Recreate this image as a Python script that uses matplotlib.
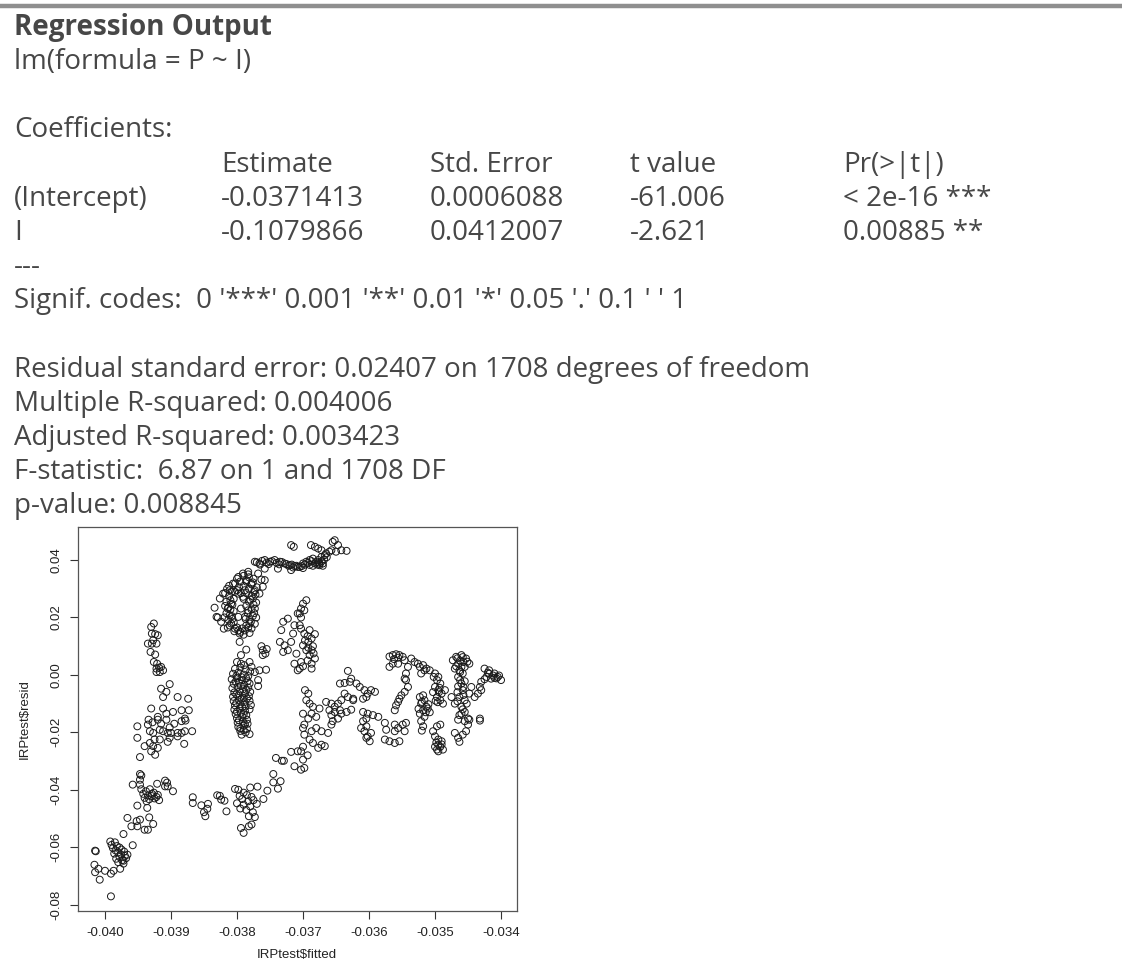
import matplotlib
matplotlib.use("Agg")
import matplotlib.pyplot as plt

W, H = 1122, 964

# regression summary text
title = "Regression Output"
call_line = "lm(formula = P ~ I)"
coef_title = "Coefficients:"
coef_cols = ["", "Estimate", "Std. Error", "t value", "Pr(>|t|)"]
coef_rows = [
    ["(Intercept)", "-0.0371413", "0.0006088", "-61.006", "< 2e-16 ***"],
    ["I", "-0.1079866", "0.0412007", "-2.621", "0.00885 **"],
]
signif_lines = ["---", "Signif. codes:  0 '***' 0.001 '**' 0.01 '*' 0.05 '.' 0.1 ' ' 1"]
fit_lines = [
    "Residual standard error: 0.02407 on 1708 degrees of freedom",
    "Multiple R-squared: 0.004006",
    "Adjusted R-squared: 0.003423",
    "F-statistic:  6.87 on 1 and 1708 DF",
    "p-value: 0.008845",
]

# residuals vs fitted, point groups (fitted, resid)
lower_left = [
    (-0.04015, -0.0612), (-0.04014, -0.0614), (-0.04016, -0.0661), (-0.04015, -0.0687),
    (-0.04008, -0.0713), (-0.04010, -0.0675), (-0.04000, -0.0682), (-0.03991, -0.0692),
    (-0.03991, -0.0771), (-0.03987, -0.0682), (-0.03977, -0.0675), (-0.03972, -0.0647),
    (-0.03966, -0.0626), (-0.03992, -0.0580), (-0.03985, -0.0583), (-0.03990, -0.0592),
    (-0.03982, -0.0596), (-0.03988, -0.0603), (-0.03978, -0.0601), (-0.03984, -0.0611),
    (-0.03975, -0.0608), (-0.03980, -0.0618), (-0.03971, -0.0615), (-0.03976, -0.0625),
    (-0.03986, -0.0622), (-0.03978, -0.0634), (-0.03970, -0.0630), (-0.03983, -0.0640),
    (-0.03974, -0.0645), (-0.03968, -0.0638), (-0.03980, -0.0652), (-0.03972, -0.0657),
    (-0.03958, -0.0593), (-0.03972, -0.0554), (-0.03966, -0.0498), (-0.03952, -0.0509),
    (-0.03960, -0.0527), (-0.03951, -0.0527), (-0.03947, -0.0504), (-0.03940, -0.0539),
    (-0.03935, -0.0539), (-0.03927, -0.0519), (-0.03933, -0.0496), (-0.03951, -0.0455),
    (-0.03936, -0.0463), (-0.03945, -0.0398), (-0.03938, -0.0405), (-0.03932, -0.0398),
    (-0.03926, -0.0410), (-0.03942, -0.0414), (-0.03935, -0.0420), (-0.03929, -0.0414),
    (-0.03922, -0.0425), (-0.03940, -0.0428), (-0.03933, -0.0433), (-0.03925, -0.0430),
    (-0.03918, -0.0436), (-0.03937, -0.0440), (-0.03929, -0.0422), (-0.03920, -0.0418),
    (-0.03958, -0.0382), (-0.03947, -0.0382), (-0.03947, -0.0345), (-0.03947, -0.0365),
    (-0.03945, -0.0350), (-0.03921, -0.0379), (-0.03909, -0.0368), (-0.03909, -0.0388),
    (-0.03905, -0.0388), (-0.03897, -0.0405), (-0.03906, -0.0375),
]

left_column = [
    (-0.03926, 0.0179), (-0.03930, 0.0167), (-0.03929, 0.0144), (-0.03924, 0.0142),
    (-0.03920, 0.0138), (-0.03935, 0.0109), (-0.03929, 0.0109), (-0.03922, 0.0109),
    (-0.03927, 0.0121), (-0.03931, 0.0080), (-0.03924, 0.0071), (-0.03926, 0.0045),
    (-0.03921, 0.0039), (-0.03915, 0.0028), (-0.03922, 0.0022), (-0.03912, 0.0016),
    (-0.03917, 0.0010), (-0.03922, 0.0010), (-0.03918, 0.0025), (-0.03902, -0.0032),
    (-0.03915, -0.0048), (-0.03907, -0.0059), (-0.03912, -0.0077), (-0.03890, -0.0077),
    (-0.03874, -0.0083), (-0.03884, -0.0123), (-0.03873, -0.0123), (-0.03897, -0.0129),
    (-0.03879, -0.0152), (-0.03930, -0.0117), (-0.03912, -0.0117), (-0.03907, -0.0135),
    (-0.03920, -0.0146), (-0.03951, -0.0179), (-0.03935, -0.0173), (-0.03932, -0.0196),
    (-0.03927, -0.0202), (-0.03917, -0.0191), (-0.03912, -0.0196), (-0.03905, -0.0202),
    (-0.03900, -0.0202), (-0.03890, -0.0202), (-0.03884, -0.0202), (-0.03879, -0.0196),
    (-0.03868, -0.0196), (-0.03934, -0.0156), (-0.03920, -0.0156), (-0.03907, -0.0156),
    (-0.03884, -0.0161), (-0.03878, -0.0159), (-0.03951, -0.0219), (-0.03940, -0.0248),
    (-0.03932, -0.0237), (-0.03925, -0.0225), (-0.03917, -0.0225), (-0.03905, -0.0233),
    (-0.03902, -0.0219), (-0.03890, -0.0214), (-0.03880, -0.0240), (-0.03930, -0.0266),
    (-0.03924, -0.0278), (-0.03947, -0.0286), (-0.03927, -0.0248), (-0.03920, -0.0254),
    (-0.03928, -0.0165), (-0.03915, -0.0170), (-0.03902, -0.0183), (-0.03895, -0.0170),
]

middle_band = [
    (-0.03867, -0.0426), (-0.03867, -0.0446), (-0.03854, -0.0454), (-0.03850, -0.0478),
    (-0.03848, -0.0492), (-0.03844, -0.0449), (-0.03845, -0.0466), (-0.03830, -0.0419),
    (-0.03826, -0.0421), (-0.03824, -0.0434), (-0.03819, -0.0438), (-0.03816, -0.0475),
    (-0.03803, -0.0397), (-0.03798, -0.0400), (-0.03790, -0.0410), (-0.03796, -0.0421),
    (-0.03785, -0.0418), (-0.03778, -0.0425), (-0.03792, -0.0432), (-0.03783, -0.0440),
    (-0.03775, -0.0436), (-0.03800, -0.0447), (-0.03790, -0.0452), (-0.03780, -0.0458),
    (-0.03770, -0.0449), (-0.03795, -0.0465), (-0.03786, -0.0470), (-0.03776, -0.0478),
    (-0.03782, -0.0492), (-0.03773, -0.0495), (-0.03769, -0.0389), (-0.03780, -0.0392),
    (-0.03794, -0.0533), (-0.03790, -0.0550), (-0.03782, -0.0527), (-0.03778, -0.0521),
    (-0.03760, -0.0432), (-0.03754, -0.0403), (-0.03745, -0.0374), (-0.03745, -0.0345),
    (-0.03738, -0.0396), (-0.03734, -0.0370), (-0.03741, -0.0289), (-0.03732, -0.0299),
    (-0.03729, -0.0299), (-0.03713, -0.0318), (-0.03718, -0.0268), (-0.03708, -0.0266),
]

rising_band = [
    (-0.03703, -0.0266), (-0.03700, -0.0295), (-0.03703, -0.0330), (-0.03698, -0.0324),
    (-0.03698, -0.0208), (-0.03700, -0.0185), (-0.03698, -0.0173), (-0.03690, -0.0225),
    (-0.03685, -0.0237), (-0.03677, -0.0254), (-0.03672, -0.0243), (-0.03667, -0.0248),
    (-0.03687, -0.0196), (-0.03680, -0.0185), (-0.03672, -0.0196), (-0.03662, -0.0202),
    (-0.03657, -0.0173), (-0.03655, -0.0161), (-0.03693, -0.0280), (-0.03700, -0.0250),
]

centre_column = [
    (-0.03796, 0.0115), (-0.03786, 0.0088), (-0.03794, 0.0069), (-0.03800, 0.0045),
    (-0.03794, 0.0039), (-0.03789, 0.0034), (-0.03781, 0.0045), (-0.03778, 0.0028),
    (-0.03773, 0.0010), (-0.03766, 0.0016), (-0.03756, 0.0018), (-0.03768, -0.0018),
    (-0.03768, -0.0039), (-0.03803, 0.0021), (-0.03795, 0.0026), (-0.03787, 0.0019),
    (-0.03780, 0.0012), (-0.03806, 0.0004), (-0.03798, 0.0008), (-0.03790, 0.0001),
    (-0.03783, -0.0004), (-0.03808, -0.0015), (-0.03800, -0.0010), (-0.03792, -0.0018),
    (-0.03784, -0.0022), (-0.03805, -0.0031), (-0.03797, -0.0027), (-0.03789, -0.0035),
    (-0.03781, -0.0030), (-0.03807, -0.0046), (-0.03799, -0.0042), (-0.03791, -0.0050),
    (-0.03783, -0.0044), (-0.03804, -0.0061), (-0.03796, -0.0057), (-0.03788, -0.0065),
    (-0.03780, -0.0059), (-0.03806, -0.0076), (-0.03798, -0.0072), (-0.03790, -0.0080),
    (-0.03782, -0.0074), (-0.03805, -0.0091), (-0.03797, -0.0087), (-0.03789, -0.0095),
    (-0.03781, -0.0090), (-0.03803, -0.0106), (-0.03795, -0.0102), (-0.03787, -0.0110),
    (-0.03779, -0.0105), (-0.03804, -0.0121), (-0.03796, -0.0117), (-0.03788, -0.0125),
    (-0.03781, -0.0120), (-0.03802, -0.0136), (-0.03794, -0.0132), (-0.03786, -0.0140),
    (-0.03800, -0.0151), (-0.03792, -0.0147), (-0.03785, -0.0156), (-0.03799, -0.0166),
    (-0.03791, -0.0162), (-0.03784, -0.0170), (-0.03798, -0.0181), (-0.03790, -0.0177),
    (-0.03785, -0.0188), (-0.03795, -0.0195), (-0.03787, -0.0200), (-0.03781, -0.0206),
    (-0.03793, -0.0208), (-0.03763, 0.0100), (-0.03757, 0.0074), (-0.03761, 0.0069),
    (-0.03761, 0.0086), (-0.03755, 0.0090),
    (-0.03801, -0.0004), (-0.03793, -0.0008), (-0.03786, -0.0012), (-0.03802, -0.0023),
    (-0.03794, -0.0039), (-0.03786, -0.0052), (-0.03801, -0.0068), (-0.03793, -0.0083),
    (-0.03785, -0.0082), (-0.03801, -0.0098), (-0.03792, -0.0112), (-0.03800, -0.0128),
    (-0.03790, -0.0138), (-0.03797, -0.0158), (-0.03788, -0.0172), (-0.03795, -0.0186),
    (-0.03790, -0.0192),
]

loop_cluster = [
    (-0.03834, 0.0234), (-0.03829, 0.0200), (-0.03824, 0.0185), (-0.03820, 0.0161),
    (-0.03831, 0.0202), (-0.03826, 0.0266), (-0.03821, 0.0283), (-0.03811, 0.0295),
    (-0.03806, 0.0318), (-0.03798, 0.0341), (-0.03791, 0.0353), (-0.03783, 0.0359),
    (-0.03768, 0.0353), (-0.03763, 0.0332), (-0.03758, 0.0330), (-0.03761, 0.0307),
    (-0.03773, 0.0295), (-0.03766, 0.0283), (-0.03776, 0.0266), (-0.03773, 0.0231),
    (-0.03771, 0.0200), (-0.03781, 0.0179), (-0.03781, 0.0146), (-0.03796, 0.0144),
    (-0.03803, 0.0161), (-0.03809, 0.0179), (-0.03811, 0.0208), (-0.03814, 0.0231),
    (-0.03809, 0.0248), (-0.03794, 0.0231), (-0.03798, 0.0202), (-0.03788, 0.0202),
    (-0.03783, 0.0225), (-0.03791, 0.0272), (-0.03798, 0.0283), (-0.03803, 0.0289),
    (-0.03788, 0.0295), (-0.03778, 0.0318), (-0.03786, 0.0330),
    (-0.03815, 0.0300), (-0.03808, 0.0290), (-0.03812, 0.0275), (-0.03805, 0.0265),
    (-0.03816, 0.0255), (-0.03807, 0.0245), (-0.03813, 0.0235), (-0.03805, 0.0222),
    (-0.03816, 0.0215), (-0.03808, 0.0205), (-0.03813, 0.0192), (-0.03805, 0.0183),
    (-0.03811, 0.0172), (-0.03800, 0.0165), (-0.03804, 0.0152), (-0.03795, 0.0150),
    (-0.03790, 0.0140), (-0.03790, 0.0345), (-0.03782, 0.0340), (-0.03775, 0.0335),
    (-0.03786, 0.0325), (-0.03778, 0.0315), (-0.03790, 0.0310), (-0.03782, 0.0300),
    (-0.03774, 0.0290), (-0.03786, 0.0285), (-0.03778, 0.0275), (-0.03790, 0.0265),
    (-0.03782, 0.0255), (-0.03775, 0.0245), (-0.03786, 0.0240), (-0.03778, 0.0228),
    (-0.03784, 0.0215), (-0.03776, 0.0205), (-0.03787, 0.0195), (-0.03779, 0.0185),
    (-0.03786, 0.0172), (-0.03778, 0.0162), (-0.03788, 0.0155), (-0.03800, 0.0335),
    (-0.03795, 0.0325), (-0.03803, 0.0318), (-0.03797, 0.0305), (-0.03800, 0.0295),
    (-0.03794, 0.0285),
    (-0.03812, 0.0310), (-0.03818, 0.0285), (-0.03810, 0.0260), (-0.03818, 0.0240),
    (-0.03810, 0.0228), (-0.03819, 0.0200), (-0.03807, 0.0195), (-0.03814, 0.0165),
    (-0.03798, 0.0155), (-0.03783, 0.0350), (-0.03776, 0.0322), (-0.03770, 0.0305),
    (-0.03772, 0.0280), (-0.03780, 0.0262), (-0.03771, 0.0252), (-0.03774, 0.0215),
    (-0.03781, 0.0192), (-0.03773, 0.0178), (-0.03783, 0.0165), (-0.03792, 0.0162),
]

top_line = [
    (-0.03773, 0.0394), (-0.03766, 0.0388), (-0.03758, 0.0400), (-0.03750, 0.0394),
    (-0.03743, 0.0400), (-0.03735, 0.0394), (-0.03728, 0.0388), (-0.03720, 0.0382),
    (-0.03713, 0.0379), (-0.03708, 0.0376), (-0.03758, 0.0370), (-0.03738, 0.0370),
    (-0.03718, 0.0365), (-0.03718, 0.0452), (-0.03714, 0.0446), (-0.03705, 0.0376),
    (-0.03700, 0.0388), (-0.03695, 0.0394), (-0.03690, 0.0400), (-0.03685, 0.0405),
    (-0.03677, 0.0400), (-0.03672, 0.0411), (-0.03667, 0.0417), (-0.03675, 0.0382),
    (-0.03670, 0.0388), (-0.03665, 0.0423), (-0.03660, 0.0429), (-0.03688, 0.0452),
    (-0.03682, 0.0446), (-0.03677, 0.0440), (-0.03672, 0.0434), (-0.03655, 0.0463),
    (-0.03652, 0.0469), (-0.03647, 0.0452), (-0.03642, 0.0434), (-0.03634, 0.0432),
    (-0.03650, 0.0429), (-0.03657, 0.0434), (-0.03770, 0.0392), (-0.03762, 0.0397),
    (-0.03755, 0.0391), (-0.03747, 0.0396), (-0.03740, 0.0390), (-0.03732, 0.0393),
    (-0.03725, 0.0386), (-0.03717, 0.0384), (-0.03710, 0.0380), (-0.03702, 0.0379),
    (-0.03697, 0.0384), (-0.03692, 0.0390), (-0.03687, 0.0396), (-0.03680, 0.0393),
    (-0.03675, 0.0387), (-0.03672, 0.0395), (-0.03668, 0.0402), (-0.03664, 0.0410),
    (-0.03678, 0.0384), (-0.03685, 0.0380),
    (-0.03765, 0.0384), (-0.03752, 0.0386), (-0.03736, 0.0385), (-0.03722, 0.0380),
    (-0.03715, 0.0374), (-0.03700, 0.0372), (-0.03690, 0.0383), (-0.03682, 0.0388),
    (-0.03676, 0.0392), (-0.03670, 0.0380),
]

upper_column = [
    (-0.03695, 0.0260), (-0.03700, 0.0248), (-0.03703, 0.0231), (-0.03705, 0.0214),
    (-0.03705, 0.0173), (-0.03703, 0.0161), (-0.03698, 0.0144), (-0.03690, 0.0156),
    (-0.03682, 0.0142), (-0.03687, 0.0127), (-0.03692, 0.0115), (-0.03700, 0.0103),
    (-0.03695, 0.0086), (-0.03687, 0.0086), (-0.03690, 0.0069), (-0.03682, 0.0057),
    (-0.03687, 0.0039), (-0.03687, 0.0022), (-0.03703, 0.0045), (-0.03705, 0.0022),
    (-0.03730, 0.0185), (-0.03733, 0.0156), (-0.03735, 0.0115), (-0.03728, 0.0103),
    (-0.03730, 0.0080), (-0.03723, 0.0086), (-0.03718, 0.0115), (-0.03715, 0.0144),
    (-0.03713, 0.0173), (-0.03708, 0.0214), (-0.03723, 0.0196), (-0.03713, 0.0039),
    (-0.03708, 0.0016), (-0.03710, 0.0074), (-0.03632, 0.0014),
    (-0.03693, 0.0135), (-0.03697, 0.0120), (-0.03685, 0.0100), (-0.03692, 0.0095),
    (-0.03684, 0.0075), (-0.03693, 0.0050), (-0.03700, 0.0030), (-0.03703, 0.0200),
    (-0.03698, 0.0225),
]

right_groups = [
    # left part, below zero
    (-0.03697, -0.0053), (-0.03692, -0.0065), (-0.03695, -0.0088), (-0.03690, -0.0100),
    (-0.03685, -0.0111), (-0.03687, -0.0135), (-0.03680, -0.0146), (-0.03675, -0.0117),
    (-0.03692, -0.0152), (-0.03700, -0.0135),
    (-0.03665, -0.0094), (-0.03657, -0.0100), (-0.03652, -0.0111), (-0.03647, -0.0100),
    (-0.03642, -0.0088), (-0.03637, -0.0065), (-0.03652, -0.0129), (-0.03644, -0.0123),
    (-0.03660, -0.0123), (-0.03657, -0.0140), (-0.03642, -0.0135), (-0.03634, -0.0129),
    (-0.03627, -0.0121), (-0.03647, -0.0152),
    (-0.03644, -0.0030), (-0.03637, -0.0028), (-0.03629, -0.0024), (-0.03627, -0.0013),
    (-0.03619, -0.0030), (-0.03614, -0.0042), (-0.03607, -0.0053), (-0.03602, -0.0065),
    (-0.03597, -0.0053), (-0.03591, -0.0059), (-0.03609, -0.0083), (-0.03604, -0.0077),
    (-0.03624, -0.0088), (-0.03632, -0.0077), (-0.03624, -0.0083),
    (-0.03609, -0.0129), (-0.03602, -0.0135), (-0.03594, -0.0140), (-0.03586, -0.0146),
    (-0.03604, -0.0152),
    # arc near -0.0355
    (-0.03569, 0.0064), (-0.03564, 0.0069), (-0.03559, 0.0072), (-0.03554, 0.0069),
    (-0.03549, 0.0063), (-0.03546, 0.0051), (-0.03569, 0.0028), (-0.03564, 0.0039),
    (-0.03556, 0.0039), (-0.03541, 0.0028), (-0.03544, 0.0005), (-0.03546, -0.0013),
    (-0.03544, -0.0018), (-0.03536, 0.0057), (-0.03531, 0.0045), (-0.03526, 0.0039),
    (-0.03523, 0.0028), (-0.03518, 0.0034), (-0.03513, 0.0022), (-0.03508, 0.0016),
    (-0.03500, 0.0005), (-0.03495, -0.0007), (-0.03521, 0.0005), (-0.03516, 0.0016),
    (-0.03541, -0.0042), (-0.03546, -0.0059), (-0.03551, -0.0071), (-0.03554, -0.0083),
    (-0.03556, -0.0094), (-0.03559, -0.0106), (-0.03561, -0.0123),
    (-0.03556, 0.0060), (-0.03562, 0.0055),
    # blobs near -0.0352 and -0.0350
    (-0.03523, -0.0077), (-0.03518, -0.0071), (-0.03516, -0.0088), (-0.03521, -0.0100),
    (-0.03513, -0.0111), (-0.03518, -0.0123), (-0.03523, -0.0135), (-0.03516, -0.0146),
    (-0.03511, -0.0117), (-0.03520, -0.0094), (-0.03514, -0.0130),
    (-0.03510, -0.0102), (-0.03525, -0.0118), (-0.03508, -0.0130),
    (-0.03502, -0.0007), (-0.03497, -0.0018), (-0.03492, -0.0030), (-0.03500, -0.0042),
    (-0.03495, -0.0053), (-0.03490, -0.0065), (-0.03497, -0.0077), (-0.03492, -0.0088),
    (-0.03488, -0.0100), (-0.03485, -0.0053), (-0.03494, -0.0060), (-0.03499, -0.0090),
    (-0.03493, -0.0045), (-0.03503, -0.0060), (-0.03496, -0.0095),
    # right blob and column near -0.0346
    (-0.03473, 0.0051), (-0.03468, 0.0063), (-0.03460, 0.0069), (-0.03453, 0.0057),
    (-0.03448, 0.0039), (-0.03455, 0.0028), (-0.03463, 0.0016), (-0.03470, 0.0022),
    (-0.03458, 0.0005), (-0.03465, 0.0039), (-0.03462, 0.0050), (-0.03457, 0.0045),
    (-0.03466, 0.0058), (-0.03458, 0.0062), (-0.03451, 0.0046), (-0.03468, 0.0030),
    (-0.03460, 0.0028), (-0.03462, 0.0010),
    (-0.03465, -0.0007), (-0.03460, -0.0030), (-0.03458, -0.0053), (-0.03463, -0.0077),
    (-0.03455, -0.0088), (-0.03460, -0.0111), (-0.03455, -0.0129), (-0.03463, -0.0140),
    (-0.03450, -0.0152), (-0.03470, -0.0100), (-0.03475, -0.0077), (-0.03445, -0.0042),
    (-0.03448, -0.0065), (-0.03462, -0.0018), (-0.03457, -0.0042), (-0.03466, -0.0060),
    (-0.03452, -0.0100), (-0.03458, -0.0120), (-0.03455, -0.0022), (-0.03465, -0.0040),
    (-0.03457, -0.0070), (-0.03466, -0.0092), (-0.03460, -0.0135),
    # far right tail
    (-0.03425, 0.0022), (-0.03418, 0.0016), (-0.03410, 0.0005), (-0.03405, -0.0007),
    (-0.03400, -0.0018), (-0.03415, -0.0013), (-0.03422, -0.0007), (-0.03430, -0.0024),
    (-0.03432, -0.0042), (-0.03435, -0.0065), (-0.03440, -0.0077), (-0.03430, -0.0053),
    (-0.03412, -0.0002), (-0.03407, -0.0012), (-0.03420, 0.0008), (-0.03432, -0.0152),
    (-0.03418, 0.0004), (-0.03425, -0.0015), (-0.03410, -0.0010), (-0.03403, -0.0002),
    # lower pockets
    (-0.03609, -0.0161), (-0.03604, -0.0179), (-0.03607, -0.0196), (-0.03602, -0.0214),
    (-0.03599, -0.0231), (-0.03604, -0.0219), (-0.03597, -0.0202), (-0.03612, -0.0185),
    (-0.03576, -0.0167), (-0.03574, -0.0191), (-0.03576, -0.0225), (-0.03569, -0.0231),
    (-0.03561, -0.0237), (-0.03554, -0.0231), (-0.03561, -0.0196), (-0.03556, -0.0185),
    (-0.03561, -0.0173), (-0.03549, -0.0173), (-0.03544, -0.0167), (-0.03546, -0.0196),
    (-0.03521, -0.0161), (-0.03518, -0.0179), (-0.03520, -0.0194),
    (-0.03503, -0.0196), (-0.03497, -0.0179), (-0.03492, -0.0173), (-0.03500, -0.0214),
    (-0.03495, -0.0225), (-0.03490, -0.0231), (-0.03495, -0.0243), (-0.03497, -0.0260),
    (-0.03495, -0.0266), (-0.03488, -0.0260), (-0.03498, -0.0235), (-0.03492, -0.0250),
    (-0.03500, -0.0250), (-0.03490, -0.0242),
    (-0.03470, -0.0202), (-0.03465, -0.0219), (-0.03463, -0.0233), (-0.03458, -0.0208),
    (-0.03453, -0.0196), (-0.03450, -0.0173), (-0.03455, -0.0161), (-0.03465, -0.0156),
    (-0.03448, -0.0156), (-0.03432, -0.0159),
]

x_ticks = [-0.040, -0.039, -0.038, -0.037, -0.036, -0.035, -0.034]
y_ticks = [-0.08, -0.06, -0.04, -0.02, 0.00, 0.02, 0.04]

groups = [lower_left, left_column, middle_band, rising_band, centre_column,
          loop_cluster, top_line, upper_column, right_groups]
fitted = [p[0] for g in groups for p in g]
resid = [p[1] for g in groups for p in g]


def fx(px):
    return px / W


def fy(py):
    return 1 - py / H


fig = plt.figure(figsize=(W / 100, H / 100), dpi=100)
fig.patch.set_facecolor("white")

# grey rule across the top
fig.add_artist(plt.Line2D([0, 1], [fy(5.5), fy(5.5)], color="#8f8f8f", lw=3.2))

txt_color = "#474747"
font = "Open Sans"
fs = 20
# baselines of the text rows, 34 px apart
base0, step = 35, 34.15


def row_y(i):
    return fy(base0 + step * i)


def put(x, i, s, **kw):
    fig.text(fx(x), row_y(i), s, fontsize=fs, family=font, color=txt_color,
             va="baseline", **kw)


put(14, 0, title, fontweight="bold")
put(14, 1, call_line)
put(14, 3, coef_title)

col_x = [14, 221, 430, 630, 843]
for i, row in zip([4, 5, 6], [coef_cols] + coef_rows):
    for cell, cx in zip(row, col_x):
        put(cx, i, cell)

for i, line in zip([7, 8], signif_lines):
    put(14, i, line)
for i, line in zip([10, 11, 12, 13, 14], fit_lines):
    put(14, i, line)

# residual plot
ax = fig.add_axes([fx(78), fy(911), (517 - 78) / W, (911 - 527) / H])
ax.scatter(fitted, resid, s=25, facecolors="none", edgecolors="#1a1a1a",
           linewidths=0.7)
ax.set_xlim(-0.040409, -0.033758)
ax.set_ylim(-0.0822, 0.0515)
ax.set_xticks(x_ticks)
ax.set_xticklabels([f"{v:.3f}" for v in x_ticks])
ax.set_yticks(y_ticks)
ax.set_yticklabels([f"{v:.2f}" for v in y_ticks])
ax.tick_params(direction="out", length=5.5, width=0.8, color="#333333",
               labelsize=9.5, labelcolor="#222222", pad=6)
ax.tick_params(axis="y", labelrotation=90)
for lbl in ax.get_xticklabels() + ax.get_yticklabels():
    lbl.set_family("Liberation Sans")
for lbl in ax.get_yticklabels():
    lbl.set_va("center")
for sp in ax.spines.values():
    sp.set_color("#555555")
    sp.set_linewidth(0.9)

fig.text(fx(25), fy(719), "IRPtest\\$resid", rotation=90, fontsize=9.5,
         family="Liberation Sans", color="#222222", ha="center", va="center")
fig.text(fx(297), fy(955), "IRPtest\\$fitted", fontsize=9.5,
         family="Liberation Sans", color="#222222", ha="center", va="center")

fig.savefig("out.png", dpi=100)
